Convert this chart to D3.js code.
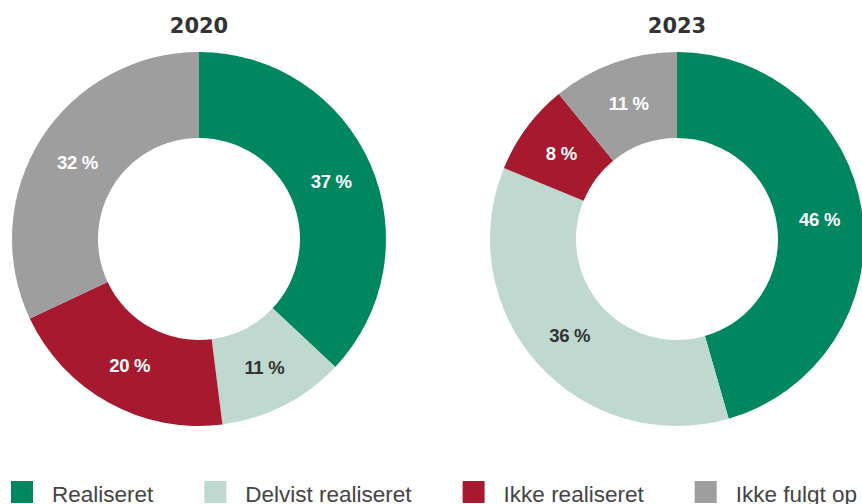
<!DOCTYPE html>
<html>
<head>
<meta charset="utf-8">
<script src="https://cdn.jsdelivr.net/npm/d3@7"></script>
<style>
  html, body { margin: 0; padding: 0; background: #fff; }
  svg { display: block; }
</style>
</head>
<body>
<div id="chart"></div>
<script>
// Data
var categories = ["Realiseret", "Delvist realiseret", "Ikke realiseret", "Ikke fulgt op"];
var years = ["2020", "2023"];
var values2020 = [37, 11, 20, 32];
var values2023 = [46, 36, 8, 11];
var colors = ["#00875f", "#bfd9d0", "#a6192e", "#9e9e9e"];
var labelColors = ["#ffffff", "#333333", "#ffffff", "#ffffff"];

var width = 862, height = 504,
    outerR = 187, innerR = 101,
    centerY = 239,
    centersX = [199, 677];

var svg = d3.select("#chart").append("svg")
    .attr("width", width)
    .attr("height", height);

var pie = d3.pie().sort(null).value(function(d) { return d; });
var arc = d3.arc().innerRadius(innerR).outerRadius(outerR);
var labelArc = d3.arc().innerRadius((innerR + outerR) / 2).outerRadius((innerR + outerR) / 2);

[values2020, values2023].forEach(function(vals, k) {
    var g = svg.append("g")
        .attr("transform", "translate(" + centersX[k] + "," + centerY + ")");

    var arcs = pie(vals);

    g.selectAll("path")
        .data(arcs)
        .enter().append("path")
        .attr("d", arc)
        .style("fill", function(d, i) { return colors[i]; });

    g.selectAll("text.lbl")
        .data(arcs)
        .enter().append("text")
        .attr("class", "lbl")
        .attr("transform", function(d) { return "translate(" + labelArc.centroid(d) + ")"; })
        .attr("dy", "0.36em")
        .attr("text-anchor", "middle")
        .style("font-family", "'Liberation Sans', Arial, sans-serif")
        .style("font-weight", "bold")
        .style("font-size", "18.5px")
        .style("letter-spacing", "-0.3px")
        .style("fill", function(d, i) { return labelColors[i]; })
        .text(function(d) { return d.data + " %"; });

    // Title
    svg.append("text")
        .attr("x", centersX[k])
        .attr("y", 32.5)
        .attr("text-anchor", "middle")
        .style("font-family", "'DejaVu Sans', sans-serif")
        .style("font-weight", "bold")
        .style("font-size", "21px")
        .style("fill", "#333333")
        .text(years[k]);
});

// Legend
var legend = svg.append("g").attr("class", "legend");
var lx = 11;
categories.forEach(function(c, i) {
    legend.append("rect")
        .attr("x", lx).attr("y", 481)
        .attr("width", 22).attr("height", 22)
        .style("fill", colors[i]);
    var t = legend.append("text")
        .attr("x", lx + 41).attr("y", 501.5)
        .style("font-family", "'Liberation Sans', Arial, sans-serif")
        .style("font-size", "22.5px")
        .style("fill", "#444444")
        .text(c);
    lx = lx + 41 + t.node().getComputedTextLength() + 51;
});
</script>
</body>
</html>
